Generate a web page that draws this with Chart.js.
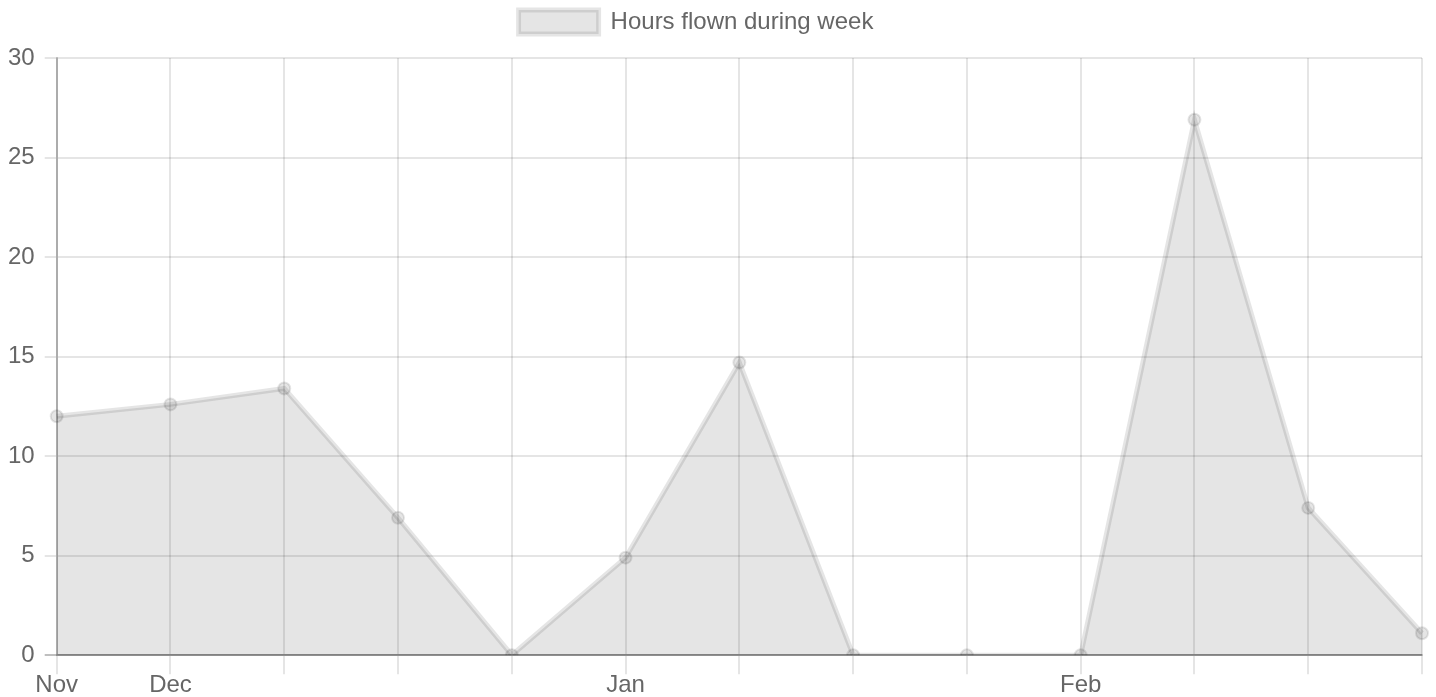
<!DOCTYPE html>
<html>
<head>
<meta charset="utf-8">
<script src="https://cdn.jsdelivr.net/npm/chart.js@4/dist/chart.umd.min.js"></script>
<style>
  body { margin: 0; background: #fff; }
  #wrap { width: 1436px; height: 697px; }
</style>
</head>
<body>
<div id="wrap"><canvas id="flightChart"></canvas></div>
<script>
// weekly labels, only month starts are named
const weekLabels = ['Nov', 'Dec', '', '', '', 'Jan', '', '', '', 'Feb', '', '', ''];
const hoursFlown = [12, 12.6, 13.4, 6.9, 0, 4.9, 14.7, 0, 0, 0, 26.9, 7.4, 1.1];
const yTicks = [0, 5, 10, 15, 20, 25, 30];

const grey = 'rgba(0,0,0,0.1)';
const darkGrey = 'rgba(0,0,0,0.25)';
const font = { family: 'Liberation Sans, Arial, sans-serif', size: 24 };

// extra room under the legend, and nudge it left like the original
const legendTweak = {
  id: 'legendTweak',
  beforeInit(chart) {
    const fit = chart.legend.fit;
    chart.legend.fit = function () {
      fit.call(this);
      this.height += 14;
    };
  },
  afterLayout(chart) {
    chart.legend.left -= 14;
    chart.legend.right -= 14;
  }
};

const ctx = document.getElementById('flightChart').getContext('2d');
const chart = new Chart(ctx, {
  type: 'line',
  data: {
    labels: weekLabels,
    datasets: [{
      label: 'Hours flown during week',
      data: hoursFlown,
      fill: 'origin',
      backgroundColor: grey,
      borderColor: grey,
      borderWidth: 5,
      tension: 0,
      pointRadius: 6,
      pointBorderWidth: 2,
      pointBackgroundColor: grey,
      pointBorderColor: grey
    }]
  },
  options: {
    responsive: true,
    maintainAspectRatio: false,
    animation: false,
    layout: { padding: { left: -2, right: 14, top: 0, bottom: 0 } },
    plugins: {
      legend: {
        labels: {
          color: '#666',
          font: font,
          boxWidth: 80,
          boxHeight: 24,
          padding: 10
        }
      },
      tooltip: { enabled: false }
    },
    scales: {
      x: {
        grid: { color: grey, lineWidth: 2, tickLength: 19 },
        border: { color: darkGrey, width: 2 },
        ticks: {
          color: '#666',
          font: font,
          autoSkip: false,
          maxRotation: 0,
          padding: -3
        }
      },
      y: {
        min: 0,
        max: 30,
        afterBuildTicks: axis => { axis.ticks = yTicks.map(v => ({ value: v })); },
        grid: {
          color: c => (c.tick && c.tick.value === 0) ? darkGrey : grey,
          lineWidth: 2,
          tickLength: 12
        },
        border: { color: darkGrey, width: 2 },
        ticks: {
          color: '#666',
          font: font,
          padding: 10
        }
      }
    }
  },
  plugins: [legendTweak]
});
</script>
</body>
</html>
